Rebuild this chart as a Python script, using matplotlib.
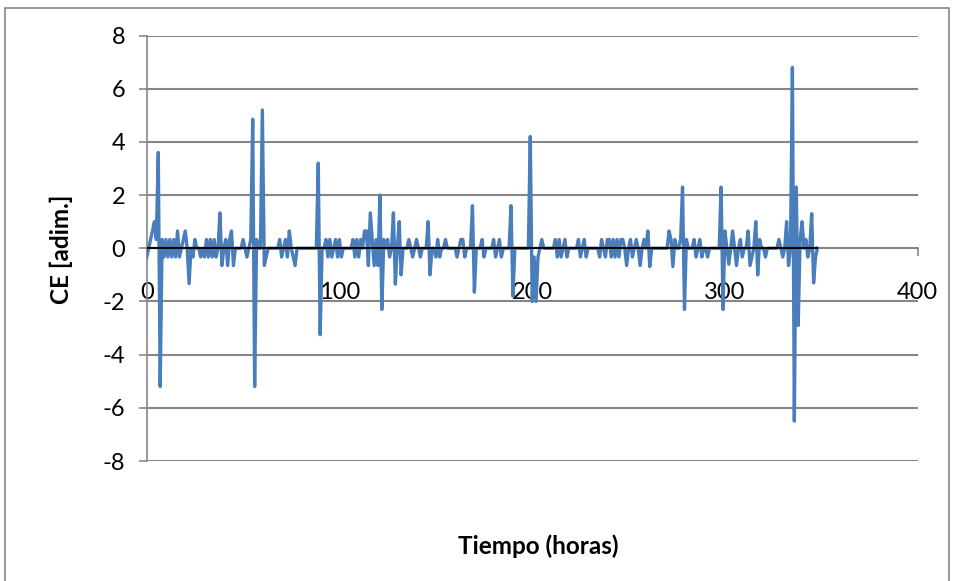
import numpy as np
import matplotlib.pyplot as plt
from matplotlib.patches import Rectangle

plt.rcParams['font.family'] = ['Lato', 'DejaVu Sans']
plt.rcParams['axes.unicode_minus'] = False

# CE coefficient, one value per hour (0..348)
ce = [
    -0.35, 0, 0.33, 0.65, 1.0, 0.33, 3.6, -5.2, 0.33, -0.33,          # 0
    0.33, -0.33, 0.33, -0.33, 0.33, -0.33, 0.65, -0.33, 0, 0.33,      # 10
    0.65, 0, -1.33, 0, -0.33, 0.33, 0, 0, -0.33, 0,                   # 20
    -0.33, 0.33, -0.33, 0.33, -0.33, 0.33, -0.33, 0, 1.33, -0.65,     # 30
    0, 0.33, -0.65, 0.33, 0.65, -0.65, 0, 0, 0, 0,                    # 40
    0.33, 0, -0.33, 0, 0.33, 4.85, -5.2, 0.33, 0, 0,                  # 50
    5.2, -0.65, -0.33, 0, 0, 0, 0, 0, 0, 0.33,                        # 60
    -0.33, 0, 0.33, -0.33, 0.65, 0, -0.33, -0.65, 0, 0,               # 70
    0, 0, 0, 0, 0, 0, 0, 0, 0, 3.2,                                   # 80
    -3.25, 0, 0, 0.33, -0.33, 0.33, -0.33, 0, 0.33, -0.33,            # 90
    0.33, -0.33, 0, 0, 0, 0, 0, 0.33, -0.33, 0.33,                    # 100
    -0.33, 0.33, 0, 0.65, 0.65, -0.65, 1.33, 0.33, -0.65, 0.33,       # 110
    -0.65, 2.0, -2.3, 0.33, 0, 0.33, -0.33, 0, 1.33, -1.35,           # 120
    0, 1.0, -1.0, 0, 0, 0, 0.33, 0, -0.33, 0,                         # 130
    0.33, 0, -0.33, 0, 0, 0, 1.0, -1.0, 0, 0,                         # 140
    -0.33, 0.33, -0.33, 0, 0, 0.33, 0, 0, 0, 0,                       # 150
    0, -0.33, 0, 0.33, 0.33, -0.33, 0, 0, 0, 1.6,                     # 160
    -1.65, 0, 0, 0, 0.33, -0.33, 0, 0, 0, 0,                          # 170
    0.33, -0.33, 0, 0.33, -0.33, 0, 0, 0, 0, 1.6,                     # 180
    -1.8, 0, 0, 0, 0, 0, 0, 0, 0, 4.2,                                # 190
    -2.0, -0.33, -2.0, -0.33, 0, 0.33, 0, 0, 0, 0,                    # 200
    0, 0, 0.33, -0.33, 0.33, -0.33, 0, 0.33, -0.33, 0,                # 210
    0, 0, 0, 0, 0.33, -0.33, 0, 0.33, -0.33, 0,                       # 220
    0, 0, 0, 0, 0, -0.33, 0.33, 0, -0.33, 0.33,                       # 230
    0.33, -0.33, 0.33, -0.33, 0.33, -0.33, 0.33, 0.33, 0, -0.65,      # 240
    0, 0.33, -0.33, 0, 0.33, 0, -0.65, 0, 0.33, 0,                    # 250
    0.65, -0.69, 0, 0, 0, 0, 0, 0, 0, 0,                              # 260
    0, 0.65, 0.33, -0.69, 0.33, 0, 0, 0.33, 2.3, -2.3,                # 270
    0.33, 0, 0, 0, 0.33, -0.33, 0, 0.33, -0.33, 0,                    # 280
    0, -0.33, 0, 0, 0, 0, 0, 0, 2.3, -2.3,                            # 290
    0.65, 0, -0.6, 0, 0.65, 0, -0.65, 0, 0.33, -0.33,                 # 300
    0, 0, 0.65, -0.65, -0.33, 0, 1.0, -1.0, 0.33, 0,                  # 310
    0, -0.33, 0, 0, 0, 0, 0, 0, 0.33, 0,                              # 320
    -0.33, 0, 1.0, -0.65, 0, 6.8, -6.5, 2.3, -2.9, 0.33,              # 330
    1.0, 0, 0.33, -0.33, 0, 1.3, -1.3, -0.33, 0,                      # 340
]
hours = np.arange(len(ce))
zero_ref = np.zeros(len(ce))

x_ticks = [0, 100, 200, 300, 400]
y_ticks = [-8, -6, -4, -2, 0, 2, 4, 6, 8]

grey = '#868686'

fig = plt.figure(figsize=(9.58, 5.81), dpi=100)
ax = fig.add_axes([146.7 / 958, 1 - 461 / 581, 771 / 958, 425.5 / 581])

ax.plot(hours, ce, color='#4A7EBB', lw=2.4, zorder=3)
ax.plot(hours, zero_ref, color='black', lw=1.5, zorder=4)

ax.set_xlim(0, 400)
ax.set_ylim(-8, 8)
ax.set_xticks(x_ticks)
ax.set_yticks(y_ticks)
ax.grid(axis='y', color=grey, lw=1.5, zorder=0)
ax.set_axisbelow(True)

for s in ['top', 'right']:
    ax.spines[s].set_visible(False)
ax.spines['left'].set_color(grey)
ax.spines['left'].set_linewidth(1.2)
ax.spines['bottom'].set_position(('data', 0))
ax.spines['bottom'].set_color(grey)
ax.spines['bottom'].set_linewidth(1.2)

ax.tick_params(axis='x', direction='out', length=5.5, width=1.2, color=grey,
               pad=19, labelsize=17)
ax.tick_params(axis='y', direction='out', length=5.5, width=1.2, color=grey,
               pad=10, labelsize=17)

fig.text(61 / 958, 1 - 249 / 581, 'CE [adim.]', rotation=90, ha='center',
         va='center', fontsize=17.5, fontweight='bold')
fig.text(538 / 958, 1 - 546 / 581, 'Tiempo (horas)', ha='center',
         va='center', fontsize=17.5, fontweight='bold')

# chart border
fig.patches.append(Rectangle((5 / 958, -0.1), 944 / 958, 1.1 - 8 / 581,
                             transform=fig.transFigure, fill=False,
                             edgecolor=grey, lw=1.2))

fig.savefig('out.png', dpi=100)
